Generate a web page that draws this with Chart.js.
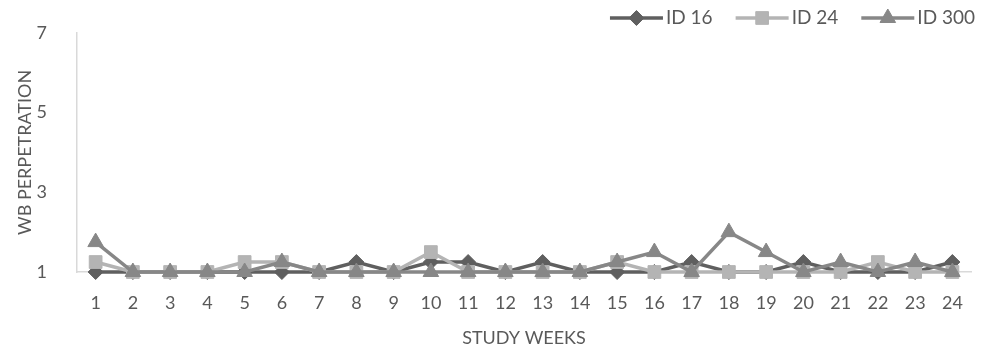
<!DOCTYPE html>
<html lang="en">
<head>
<meta charset="UTF-8">
<title>WB Perpetration by Study Week</title>
<script src="https://cdn.jsdelivr.net/npm/chart.js"></script>
<style>
    body {
        margin: 0;
        background: #ffffff;
    }
    .chart-box {
        position: relative;
        width: 984px;
        height: 350px;
    }
</style>
</head>
<body>

<div class="chart-box">
    <canvas id="wbChart"></canvas>
</div>

<script>
    // weekly WB perpetration scores per participant
    const weeks = ['1', '2', '3', '4', '5', '6', '7', '8', '9', '10', '11', '12',
                   '13', '14', '15', '16', '17', '18', '19', '20', '21', '22', '23', '24'];
    const id16  = [1, 1, 1, 1, 1, 1, 1, 1.25, 1, 1.25, 1.25, 1, 1.25, 1, 1, 1, 1.25, 1, 1, 1.25, 1, 1, 1, 1.25];
    const id24  = [1.25, 1, 1, 1, 1.25, 1.25, 1, 1, 1, 1.5, 1, 1, 1, 1, 1.25, 1, 1, 1, 1, 1, 1, 1.25, 1, 1];
    const id300 = [1.75, 1, 1, 1, 1, 1.25, 1, 1, 1, 1, 1, 1, 1, 1, 1.25, 1.5, 1, 2, 1.5, 1, 1.25, 1, 1.25, 1];
    const yTicks = [1, 3, 5, 7];

    const textColor = '#595959';
    const axisColor = '#d9d9d9';
    const fontFamily = 'Lato, "Open Sans", sans-serif';

    // legend drawn as line + marker samples, right aligned at the top
    const lineLegend = {
        id: 'lineLegend',
        afterDraw(chart, args, opts) {
            const ctx = chart.ctx;
            ctx.save();
            ctx.font = opts.fontSize + 'px ' + fontFamily;
            ctx.textBaseline = 'middle';
            let x = opts.right;
            const y = opts.y;
            chart.data.datasets.slice().reverse().forEach(ds => {
                const w = ctx.measureText(ds.label).width;
                x -= w;
                ctx.fillStyle = textColor;
                ctx.textAlign = 'left';
                ctx.fillText(ds.label, x, y);
                x -= opts.textGap;

                ctx.strokeStyle = ds.borderColor;
                ctx.lineWidth = ds.borderWidth;
                ctx.beginPath();
                ctx.moveTo(x - opts.lineLength, y);
                ctx.lineTo(x, y);
                ctx.stroke();

                ctx.fillStyle = ds.pointBackgroundColor;
                ctx.strokeStyle = ds.pointBorderColor;
                ctx.lineWidth = 1;
                Chart.helpers.drawPoint(ctx, {
                    pointStyle: ds.pointStyle,
                    radius: ds.pointRadius,
                    borderWidth: 1,
                    rotation: 0
                }, x - opts.lineLength / 2, y);

                x -= opts.lineLength + opts.itemGap;
            });
            ctx.restore();
        }
    };

    function series(label, data, color, style, radius, order) {
        return {
            label: label,
            data: data,
            borderColor: color,
            backgroundColor: color,
            borderWidth: 3.5,
            pointStyle: style,
            pointRadius: radius,
            pointHoverRadius: radius,
            pointBackgroundColor: color,
            pointBorderColor: color,
            pointBorderWidth: 1,
            tension: 0,
            clip: false,
            order: order
        };
    }

    const ctx = document.getElementById('wbChart').getContext('2d');
    const wbChart = new Chart(ctx, {
        type: 'line',
        data: {
            labels: weeks,
            datasets: [
                series('ID 16', id16, '#5f5f5f', 'rectRot', 7.5, 3),
                series('ID 24', id24, '#b4b4b4', 'rect', 9, 2),
                series('ID 300', id300, '#878787', 'triangle', 9, 1)
            ]
        },
        options: {
            responsive: true,
            maintainAspectRatio: false,
            animation: false,
            layout: {
                padding: { top: 32, right: 13, bottom: 0, left: 0 }
            },
            plugins: {
                legend: { display: false },
                tooltip: { enabled: false },
                lineLegend: { right: 975, y: 18, fontSize: 19, lineLength: 53, textGap: 3, itemGap: 23 }
            },
            scales: {
                x: {
                    offset: true,
                    grid: { display: false },
                    border: { display: true, color: axisColor, width: 1.5 },
                    ticks: {
                        color: textColor,
                        font: { family: fontFamily, size: 18 },
                        padding: 12,
                        maxRotation: 0,
                        autoSkip: false
                    },
                    title: {
                        display: true,
                        text: 'STUDY WEEKS',
                        color: textColor,
                        font: { family: fontFamily, size: 18 },
                        padding: { top: 4, bottom: 1 }
                    },
                    afterFit: s => { s.height = 78; }
                },
                y: {
                    min: 1,
                    max: 7,
                    grid: { display: false },
                    border: { display: true, color: axisColor, width: 1.5 },
                    afterBuildTicks: s => { s.ticks = yTicks.map(v => ({ value: v })); },
                    ticks: {
                        color: textColor,
                        font: { family: fontFamily, size: 18 },
                        padding: 22
                    },
                    title: {
                        display: true,
                        text: 'WB PERPETRATION',
                        color: textColor,
                        font: { family: fontFamily, size: 18 },
                        padding: { top: 14, bottom: 0 }
                    },
                    afterFit: s => { s.width = 77; }
                }
            }
        },
        plugins: [lineLegend]
    });
</script>

</body>
</html>
